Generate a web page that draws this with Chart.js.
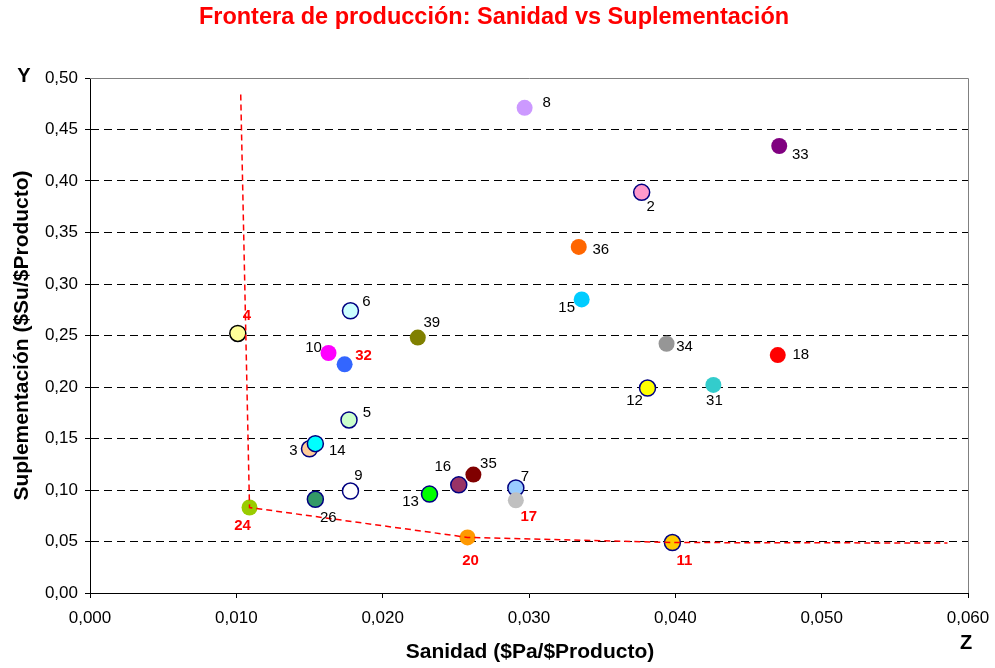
<!DOCTYPE html>
<html>
<head>
<meta charset="utf-8">
<script src="https://cdn.jsdelivr.net/npm/chart.js@4.4.1/dist/chart.umd.min.js"></script>
<style>
  html, body { margin: 0; padding: 0; background: #fff; }
  #wrap { width: 995px; height: 668px; }
</style>
</head>
<body>
<div id="wrap"><canvas id="myChart" width="995" height="668"></canvas></div>
<script>
// data
var ids = ['4', '6', '10', '32', '5', '3', '14', '9', '26', '24', '13', '16', '35', '7', '17', '20', '11',
           '8', '33', '2', '36', '15', '39', '34', '18', '12', '31'];
var sanidad = [0.0101, 0.0178, 0.0163, 0.0174, 0.0177, 0.0150, 0.0154, 0.0178, 0.0154, 0.0109, 0.0232, 0.0252, 0.0262, 0.0291, 0.0291, 0.0258, 0.0398,
               0.0297, 0.0471, 0.0377, 0.0334, 0.0336, 0.0224, 0.0394, 0.0470, 0.0381, 0.0426];
var suplementacion = [0.252, 0.274, 0.233, 0.222, 0.168, 0.140, 0.145, 0.099, 0.091, 0.083, 0.096, 0.105, 0.115, 0.102, 0.090, 0.054, 0.049,
                      0.471, 0.434, 0.389, 0.336, 0.285, 0.248, 0.242, 0.231, 0.199, 0.202];
var redIds = ['4', '32', '24', '20', '17', '11'];

var frontierX = [0.0103, 0.0109, 0.0258, 0.0398, 0.0586];
var frontierY = [0.484, 0.083, 0.054, 0.049, 0.0485];

var xTicks = [0, 0.01, 0.02, 0.03, 0.04, 0.05, 0.06];
var yTicks = [0, 0.05, 0.10, 0.15, 0.20, 0.25, 0.30, 0.35, 0.40, 0.45, 0.50];

// styles per point
var fills = {
  '4': '#FFFF99', '6': '#CCFFFF', '10': '#FF00FF', '32': '#3366FF', '5': '#CCFFCC', '3': '#FFCC99',
  '14': '#00FFFF', '9': '#FFFFFF', '26': '#339966', '24': '#99CC00', '13': '#00FF00', '16': '#993366',
  '35': '#800000', '7': '#99CCFF', '17': '#C0C0C0', '20': '#FF9900', '11': '#FFCC00', '8': '#CC99FF',
  '33': '#800080', '2': '#FF99CC', '36': '#FF6600', '15': '#00CCFF', '39': '#808000', '34': '#969696',
  '18': '#FF0000', '12': '#FFFF00', '31': '#33CCCC'
};
var outlined = { '4': '#000000', '6': '#000080', '5': '#000080', '3': '#000080', '14': '#000080', '9': '#000080',
  '26': '#000080', '13': '#000080', '16': '#000080', '7': '#000080', '11': '#000080', '2': '#000080', '12': '#000080' };
var labelOffset = {
  '4': [9, -18], '6': [16, -9], '10': [-15, -5], '32': [19, -8], '5': [18, -7], '3': [-16, 2], '14': [22, 7],
  '9': [8, -15], '26': [13, 19], '24': [-7, 18], '13': [-19, 8], '16': [-16, -18], '35': [15, -11], '7': [9, -11],
  '17': [13, 17], '20': [3, 23], '11': [12, 18], '8': [22, -5], '33': [21, 9], '2': [9, 15], '36': [22, 3],
  '15': [-15, 8], '39': [14, -15], '34': [18, 3], '18': [23, 0], '12': [-13, 13], '31': [1, 16]
};

var FONT = '"Liberation Sans", Arial, sans-serif';

var points = [];
var i;
for (i = 0; i < ids.length; i++) {
  points.push({ x: sanidad[i], y: suplementacion[i] });
}
var frontier = [];
for (i = 0; i < frontierX.length; i++) {
  frontier.push({ x: frontierX[i], y: frontierY[i] });
}

var pointLabelsPlugin = {
  id: 'pointLabels',
  beforeDatasetsDraw: function(chart) {
    var ctx = chart.ctx, a = chart.chartArea;
    ctx.save();
    ctx.strokeStyle = '#808080';
    ctx.lineWidth = 1;
    ctx.beginPath();
    ctx.moveTo(a.left, a.top + 0.5);
    ctx.lineTo(a.right + 0.5, a.top + 0.5);
    ctx.lineTo(a.right + 0.5, a.bottom);
    ctx.stroke();
    ctx.restore();
  },
  afterDatasetsDraw: function(chart) {
    var ctx = chart.ctx;
    var meta = chart.getDatasetMeta(1);
    ctx.save();
    ctx.textAlign = 'center';
    ctx.textBaseline = 'middle';
    meta.data.forEach(function(el, k) {
      var id = ids[k];
      var off = labelOffset[id] || [14, -10];
      var red = redIds.indexOf(id) >= 0;
      ctx.font = (red ? 'bold ' : '') + '15px ' + FONT;
      ctx.fillStyle = red ? '#FF0000' : '#000000';
      ctx.fillText(id, el.x + off[0], el.y + off[1]);
    });
    ctx.restore();
  },
  afterDraw: function(chart) {
    var ctx = chart.ctx, a = chart.chartArea;
    ctx.save();
    ctx.textAlign = 'center';
    ctx.textBaseline = 'middle';
    ctx.fillStyle = '#FF0000';
    ctx.font = 'bold 23.5px ' + FONT;
    ctx.fillText('Frontera de producción: Sanidad vs Suplementación', 494, 18);

    ctx.fillStyle = '#000000';
    ctx.font = 'bold 21px ' + FONT;
    ctx.fillText('Sanidad ($Pa/$Producto)', 530, 652);
    ctx.font = 'bold 20px ' + FONT;
    ctx.fillText('Y', 24, 76);
    ctx.fillText('Z', 966, 643);

    ctx.font = 'bold 21px ' + FONT;
    ctx.translate(22, (a.top + a.bottom) / 2);
    ctx.rotate(-Math.PI / 2);
    ctx.fillText('Suplementación ($Su/$Producto)', 0, 0);
    ctx.restore();
  }
};

var ctx = document.getElementById('myChart').getContext('2d');

var myScatter = new Chart(ctx, {
  type: 'scatter',
  data: {
    datasets: [{
      // frontier, drawn on top of the points
      data: frontier,
      showLine: true,
      borderColor: '#FF0000',
      borderWidth: 1.5,
      borderDash: [6, 4],
      pointRadius: 0,
      fill: false
    }, {
      data: points,
      pointRadius: 8,
      pointHoverRadius: 8,
      backgroundColor: ids.map(function(id) { return fills[id]; }),
      borderColor: ids.map(function(id) { return outlined[id] || fills[id]; }),
      borderWidth: ids.map(function(id) { return outlined[id] ? 1.5 : 0; })
    }]
  },
  options: {
    responsive: false,
    animation: false,
    events: [],
    layout: { padding: { top: 78, right: 27, left: 0, bottom: 0 } },
    plugins: { legend: { display: false }, title: { display: false }, tooltip: { enabled: false } },
    scales: {
      x: {
        type: 'linear',
        min: 0, max: 0.06,
        afterFit: function(scale) { scale.height = 75; scale.paddingRight = 0; scale.paddingLeft = 0; },
        afterBuildTicks: function(scale) { scale.ticks = xTicks.map(function(v) { return { value: v }; }); },
        ticks: {
          callback: function(v) { return v.toFixed(3).replace('.', ','); },
          font: { family: FONT, size: 17 },
          color: '#000000',
          padding: 10,
          maxRotation: 0
        },
        grid: { drawOnChartArea: false, drawTicks: true, tickLength: 5, color: '#000000' },
        border: { display: true, color: '#000000', width: 1 }
      },
      y: {
        type: 'linear',
        min: 0, max: 0.5,
        afterFit: function(scale) { scale.width = 90; scale.paddingTop = 0; scale.paddingBottom = 0; },
        afterBuildTicks: function(scale) { scale.ticks = yTicks.map(function(v) { return { value: v }; }); },
        ticks: {
          callback: function(v) { return v.toFixed(2).replace('.', ','); },
          font: { family: FONT, size: 17 },
          color: '#000000',
          padding: 7
        },
        grid: {
          drawTicks: true,
          tickLength: 5,
          color: function(c) { return (c.tick && (c.tick.value === 0.5 || c.tick.value === 0)) ? 'rgba(0,0,0,0)' : '#000000'; },
          tickColor: '#000000',
          tickBorderDash: [],
          lineWidth: 1
        },
        border: { display: true, color: '#000000', width: 1, dash: [8, 5] }
      }
    }
  },
  plugins: [pointLabelsPlugin]
});
</script>
</body>
</html>
